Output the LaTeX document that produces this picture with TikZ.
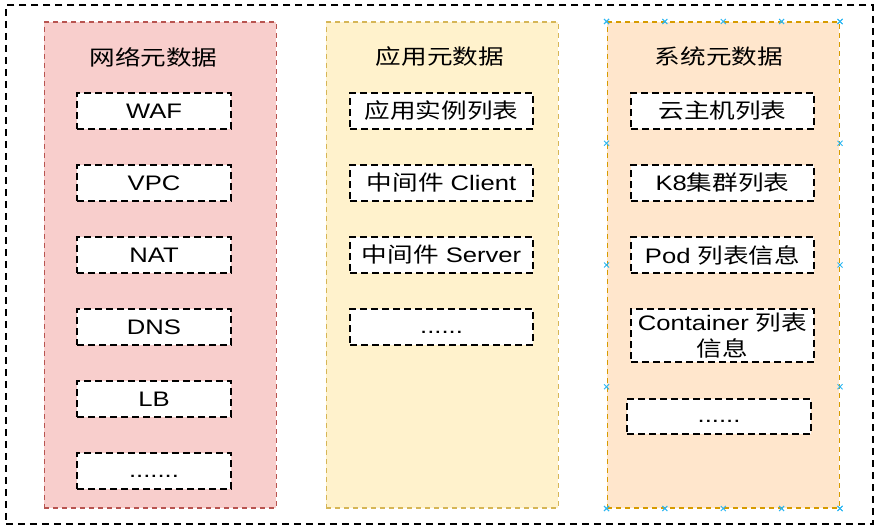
\documentclass[tikz,border=0pt]{standalone}
\usepackage{fontspec}
\setmainfont{Liberation Sans}[FakeStretch=1.22]
\newfontfamily\cjk{Noto Sans CJK SC}[FakeStretch=1.22]
\usetikzlibrary{calc}
\definecolor{redfill}{HTML}{F8CECC}
\definecolor{redline}{HTML}{B85450}
\definecolor{yelfill}{HTML}{FFF2CC}
\definecolor{yelline}{HTML}{D6B656}
\definecolor{orfill}{HTML}{FFE6CC}
\definecolor{orline}{HTML}{D79B00}
\definecolor{handlecol}{HTML}{29B6F2}
\begin{document}
\begin{tikzpicture}[x=1pt,y=-1pt,
  font=\fontsize{21}{26}\selectfont,
  outerbox/.style={draw=black,line width=1.6pt,dash pattern=on 7pt off 5pt,
    minimum width=867pt,minimum height=518.5pt,anchor=north west,inner sep=0pt},
  colbox/.style={line width=1.5pt,dash pattern=on 5pt off 4pt,
    minimum width=232pt,minimum height=485.5pt,anchor=north west,inner sep=0pt},
  item/.style={draw=black,fill=white,line width=2pt,dash pattern=on 7pt off 4pt,
    minimum height=36pt,inner sep=0pt,align=center},
  dots/.style={text height=12pt,text depth=0pt},
  title/.style={inner sep=0pt},
  handle/.style={draw=handlecol,line width=1pt}
]
\useasboundingbox (0,0) rectangle (880,529);
\node[outerbox] (outer) at (5,4.5) {};
\node[colbox,draw=redline,fill=redfill] (c1) at (43.5,21.5) {};
\node[colbox,draw=yelline,fill=yelfill] (c2) at (325.5,21.5) {};
\node[colbox,draw=orline,fill=orfill] (c3) at (606.5,21.5) {};

\node[title] (t1) at (153.5,57) {\cjk 网络元数据};
\node[title] (t2) at (440,57) {\cjk 应用元数据};
\node[title] (t3) at (719,57) {\cjk 系统元数据};

\node[item,minimum width=154pt] (waf) at (154,111) {WAF};
\node[item,minimum width=154pt] (vpc) at (154,183) {VPC};
\node[item,minimum width=154pt] (nat) at (154,255) {NAT};
\node[item,minimum width=154pt] (dns) at (154,327) {DNS};
\node[item,minimum width=154pt] (lb) at (154,399) {LB};
\node[item,dots,minimum width=154pt] (d1) at (154,471) {.......};

\node[item,minimum width=183pt] (app) at (441.5,111) {\cjk 应用实例列表};
\node[item,minimum width=183pt] (cli) at (441.5,183) {{\cjk 中间件} Client};
\node[item,minimum width=183pt] (srv) at (441.5,255) {{\cjk 中间件} Server};
\node[item,dots,minimum width=183pt] (d2) at (441.5,327) {......};

\node[item,minimum width=183pt] (vm) at (722.5,111) {\cjk 云主机列表};
\node[item,minimum width=183pt] (k8) at (722.5,183) {K8{\cjk 集群列表}};
\node[item,minimum width=183pt] (pod) at (722.5,255) {Pod {\cjk 列表信息}};
\node[item,minimum width=183pt,minimum height=53pt] (ctr) at (722.5,335.5) {Container {\cjk 列表}\\{\cjk 信息}};
\node[item,dots,minimum width=184pt,minimum height=35pt] (d3) at (719,416.5) {......};

\foreach \f in {0,0.25,0.5,0.75,1}{
  \coordinate (ht) at ($(c3.north west)!\f!(c3.north east)$);
  \coordinate (hb) at ($(c3.south west)!\f!(c3.south east)$);
  \coordinate (hl) at ($(c3.north west)!\f!(c3.south west)$);
  \coordinate (hr) at ($(c3.north east)!\f!(c3.south east)$);
  \foreach \p in {ht,hb,hl,hr}{
    \draw[handle] (\p) +(-2.5,-2.5) -- +(2.5,2.5) (\p) +(-2.5,2.5) -- +(2.5,-2.5);
  }
}
\end{tikzpicture}
\end{document}
